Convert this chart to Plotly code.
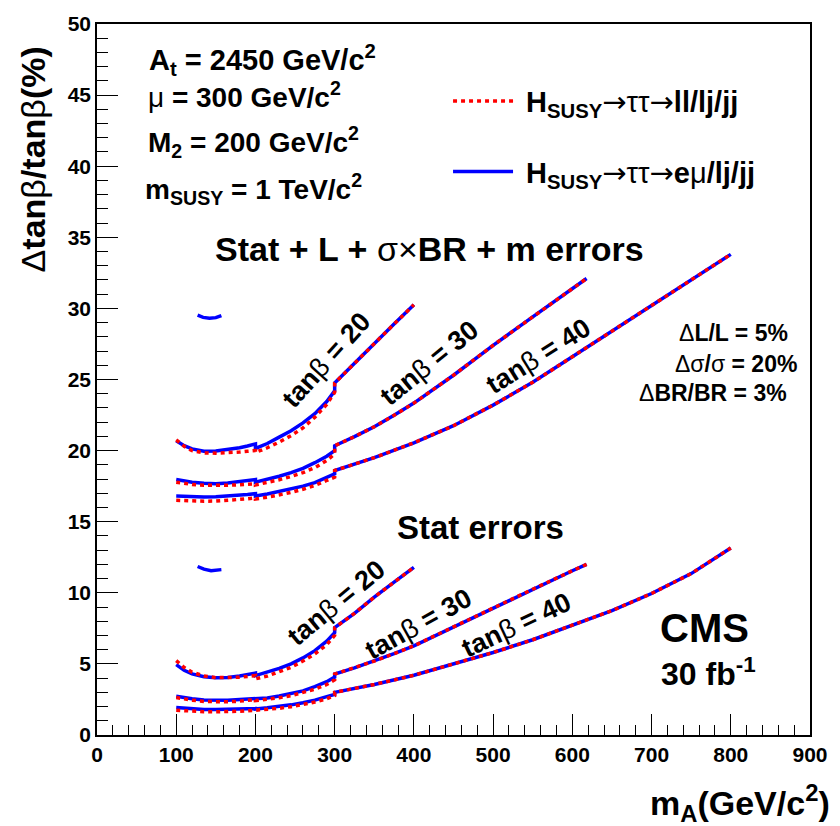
import plotly.graph_objects as go

# ---------------- data ----------------
x_lo = [100, 110, 120, 135, 150, 165, 180, 190, 200]
x_mid = [200, 215, 230, 245, 260, 275, 290, 300]
x_hi_20 = [300, 325, 350, 375, 400]
x_hi_30 = [300, 325, 350, 375, 400, 450, 500, 550, 600, 618]
x_hi_40 = [300, 350, 400, 450, 500, 550, 600, 650, 700, 750, 800]

# Stat + L + sigma x BR + m errors
up20_blue_lo = [20.69, 20.35, 20.12, 19.95, 19.97, 20.07, 20.2, 20.32, 20.47]
up20_red_lo = [20.75, 20.3, 20.0, 19.84, 19.82, 19.84, 19.9, 19.95, 20.0]
up20_blue_mid = [20.15, 20.5, 20.95, 21.4, 21.95, 22.6, 23.45, 24.2]
up20_red_mid = [19.87, 20.2, 20.6, 21.05, 21.6, 22.35, 23.25, 24.1]
up20_hi = [24.75, 26.15, 27.55, 28.9, 30.25]

up30_blue_lo = [17.97, 17.86, 17.78, 17.7, 17.67, 17.72, 17.82, 17.9, 17.97]
up30_red_lo = [17.78, 17.69, 17.62, 17.56, 17.54, 17.56, 17.6, 17.63, 17.66]
up30_blue_mid = [17.78, 17.98, 18.2, 18.45, 18.75, 19.15, 19.6, 20.0]
up30_red_mid = [17.58, 17.75, 17.95, 18.18, 18.45, 18.8, 19.3, 19.76]
up30_hi = [20.34, 20.98, 21.68, 22.48, 23.34, 25.3, 27.4, 29.4, 31.4, 32.1]

up40_blue_lo = [16.81, 16.78, 16.76, 16.74, 16.75, 16.79, 16.86, 16.91, 16.97]
up40_red_lo = [16.5, 16.47, 16.45, 16.44, 16.45, 16.49, 16.56, 16.61, 16.67]
up40_blue_mid = [16.81, 16.95, 17.12, 17.3, 17.5, 17.75, 18.1, 18.36]
up40_red_mid = [16.6, 16.72, 16.88, 17.06, 17.28, 17.55, 17.9, 18.13]
up40_hi = [18.6, 19.5, 20.55, 21.75, 23.2, 24.8, 26.6, 28.4, 30.2, 32.0, 33.8]

# Stat errors
lo20_blue_lo = [4.95, 4.55, 4.3, 4.1, 4.03, 4.05, 4.15, 4.25, 4.35]
lo20_red_lo = [5.23, 4.75, 4.42, 4.15, 4.03, 4.02, 4.06, 4.12, 4.18]
lo20_blue_mid = [4.18, 4.4, 4.68, 5.0, 5.42, 5.93, 6.6, 7.2]
lo20_red_mid = [3.95, 4.15, 4.45, 4.76, 5.2, 5.7, 6.35, 7.0]
lo20_hi = [7.55, 8.55, 9.7, 10.75, 11.79]

lo30_blue_lo = [2.72, 2.62, 2.55, 2.47, 2.44, 2.45, 2.5, 2.53, 2.56]
lo30_red_lo = [2.63, 2.53, 2.45, 2.36, 2.32, 2.33, 2.38, 2.44, 2.49]
lo30_blue_mid = [2.5, 2.6, 2.74, 2.9, 3.1, 3.4, 3.75, 4.07]
lo30_red_mid = [2.42, 2.5, 2.62, 2.77, 2.97, 3.22, 3.55, 3.88]
lo30_hi = [4.28, 4.72, 5.2, 5.72, 6.27, 7.6, 8.95, 10.25, 11.55, 12.0]

lo40_blue_lo = [1.93, 1.88, 1.84, 1.8, 1.79, 1.79, 1.82, 1.84, 1.86]
lo40_red_lo = [1.74, 1.7, 1.67, 1.64, 1.63, 1.63, 1.67, 1.7, 1.74]
lo40_blue_mid = [1.83, 1.91, 2.0, 2.12, 2.27, 2.45, 2.7, 2.85]
lo40_red_mid = [1.72, 1.79, 1.88, 1.99, 2.14, 2.32, 2.55, 2.78]
lo40_hi = [3.0, 3.55, 4.2, 5.0, 5.8, 6.7, 7.7, 8.75, 9.95, 11.35, 13.15]

# short isolated blue arcs
arc_up_x = [127, 134, 142, 150, 157]
arc_up_y = [29.52, 29.37, 29.3, 29.35, 29.5]
arc_lo_x = [127, 135, 144, 151, 157]
arc_lo_y = [11.85, 11.66, 11.56, 11.58, 11.63]

x_ticks = [0, 100, 200, 300, 400, 500, 600, 700, 800, 900]
y_ticks = [0, 5, 10, 15, 20, 25, 30, 35, 40, 45, 50]

# ---------------- figure ----------------
FONT = "Liberation Sans, Arial, sans-serif"
BLUE = "#0000ff"
RED = "#ff0000"
N = '<span style="font-weight:normal">'
E = "</span>"
ARW = '<span style="font-weight:normal;font-family:DejaVu Sans">→</span>'

curves = [
    (up20_blue_lo, up20_red_lo, up20_blue_mid, up20_red_mid, x_hi_20, up20_hi),
    (up30_blue_lo, up30_red_lo, up30_blue_mid, up30_red_mid, x_hi_30, up30_hi),
    (up40_blue_lo, up40_red_lo, up40_blue_mid, up40_red_mid, x_hi_40, up40_hi),
    (lo20_blue_lo, lo20_red_lo, lo20_blue_mid, lo20_red_mid, x_hi_20, lo20_hi),
    (lo30_blue_lo, lo30_red_lo, lo30_blue_mid, lo30_red_mid, x_hi_30, lo30_hi),
    (lo40_blue_lo, lo40_red_lo, lo40_blue_mid, lo40_red_mid, x_hi_40, lo40_hi),
]

fig = go.Figure()

name_red = "&nbsp;H<sub>SUSY</sub>" + ARW + N + "ττ" + E + ARW + "ll/lj/jj"
name_blue = "&nbsp;H<sub>SUSY</sub>" + ARW + N + "ττ" + E + ARW + "e" + N + "μ" + E + "/lj/jj"

# blue solid first
for b_lo, r_lo, b_mid, r_mid, xh, yh in curves:
    fig.add_trace(go.Scatter(
        x=x_lo + x_mid + xh, y=b_lo + b_mid + yh, mode="lines",
        line=dict(color=BLUE, width=3.5), showlegend=False, hoverinfo="skip"))
for ax_, ay_ in [(arc_up_x, arc_up_y), (arc_lo_x, arc_lo_y)]:
    fig.add_trace(go.Scatter(x=ax_, y=ay_, mode="lines",
                             line=dict(color=BLUE, width=3.5),
                             showlegend=False, hoverinfo="skip"))
# red dotted on top
for b_lo, r_lo, b_mid, r_mid, xh, yh in curves:
    fig.add_trace(go.Scatter(
        x=x_lo + x_mid + xh, y=r_lo + r_mid + yh, mode="lines",
        line=dict(color=RED, width=3.5, dash="4px,4px"),
        showlegend=False, hoverinfo="skip"))

# legend entries (one per style)
fig.add_trace(go.Scatter(x=[None], y=[None], mode="lines",
                         line=dict(color=RED, width=3.5, dash="4px,4px"),
                         name=name_red, legendgroup="red", legendrank=1))
fig.add_trace(go.Scatter(x=[None], y=[None], mode="lines",
                         line=dict(color=BLUE, width=3.5),
                         name=name_blue, legendgroup="blue", legendrank=2))

ann = []
def T(x, y, text, size, xanchor="left", yanchor="middle", angle=0, xref="x", yref="y"):
    ann.append(dict(x=x, y=y, xref=xref, yref=yref, text=text, showarrow=False,
                    xanchor=xanchor, yanchor=yanchor, textangle=angle,
                    font=dict(family=FONT, size=size, color="black", weight="bold")))

# parameter block
T(63, 47.49, "A<sub>t</sub> = 2450 GeV/c<sup>2</sup>", 29)
T(62, 44.98, N + "μ" + E + " = 300 GeV/c<sup>2</sup>", 28)
T(62, 41.70, "M<sub>2</sub> = 200 GeV/c<sup>2</sup>", 28)
T(58, 38.43, "m<sub>SUSY</sub> = 1 TeV/c<sup>2</sup>", 28)

T(420, 34.18, "Stat + L + " + N + "σ×" + E + "BR + m errors", 34, xanchor="center")
T(484, 14.6, "Stat errors", 33, xanchor="center")

T(732, 28.3, N + "Δ" + E + "L/L = 5%", 23)
T(727, 26.1, N + "Δσ" + E + "/" + N + "σ" + E + " = 20%", 23)
T(682, 24.05, N + "Δ" + E + "BR/BR = 3%", 23)

T(767, 7.5, "CMS", 40, xanchor="center")
T(710, 4.45, "30 fb<sup>-1</sup>", 32)

tb = "tan" + N + "β" + E
T(289.6, 26.36, tb + " = 20", 27, xanchor="center", angle=-48)
T(419.7, 26.15, tb + " = 30", 27, xanchor="center", angle=-39)
T(557.3, 26.64, tb + " = 40", 27, xanchor="center", angle=-32)
T(302, 9.27, tb + " = 20", 27, xanchor="center", angle=-39.5)
T(406, 7.81, tb + " = 30", 27, xanchor="center", angle=-29)
T(529.7, 7.74, tb + " = 40", 27, xanchor="center", angle=-25)

# axis titles
T((32 - 97) / 719, (735 - 155) / 717,
  N + "Δ" + E + "tan" + N + "β" + E + "/tan" + N + "β" + E + "(%)", 34,
  xanchor="center", yanchor="middle", angle=-90, xref="paper", yref="paper")
T((838 - 97) / 719, (735 - 804) / 717, "m<sub>A</sub>(GeV/c<sup>2</sup>)", 34,
  xanchor="right", yanchor="middle", xref="paper", yref="paper")

axis_common = dict(
    showgrid=False, zeroline=False, showline=True, linecolor="black", linewidth=1.5,
    mirror=True, ticks="inside", tickcolor="black", tickwidth=1.2, ticklen=21,
    tickfont=dict(family=FONT, size=21, color="black", weight="bold"),
)

fig.update_layout(
    width=840, height=826,
    margin=dict(l=97, r=24, t=18, b=91),
    paper_bgcolor="white", plot_bgcolor="white",
    font=dict(family=FONT, color="black"),
    xaxis=dict(range=[0, 900], tickvals=x_ticks, ticktext=[str(v) for v in x_ticks],
               minor=dict(dtick=20, ticks="inside", ticklen=10, tickcolor="black", tickwidth=1.2),
               **axis_common),
    yaxis=dict(range=[0, 50], tickvals=y_ticks, ticktext=[str(v) for v in y_ticks],
               minor=dict(dtick=1, ticks="inside", ticklen=11, tickcolor="black", tickwidth=1.2),
               **axis_common),
    legend=dict(x=(451 - 97) / 719, y=(735 - 70) / 717, xanchor="left", yanchor="top",
                bgcolor="rgba(0,0,0,0)", tracegroupgap=30, itemwidth=60,
                font=dict(family=FONT, size=29, color="black", weight="bold")),
    annotations=ann,
    showlegend=True,
)

fig.write_html("out.html", post_script="document.body.style.margin='0px';",
               config={"displayModeBar": False})
